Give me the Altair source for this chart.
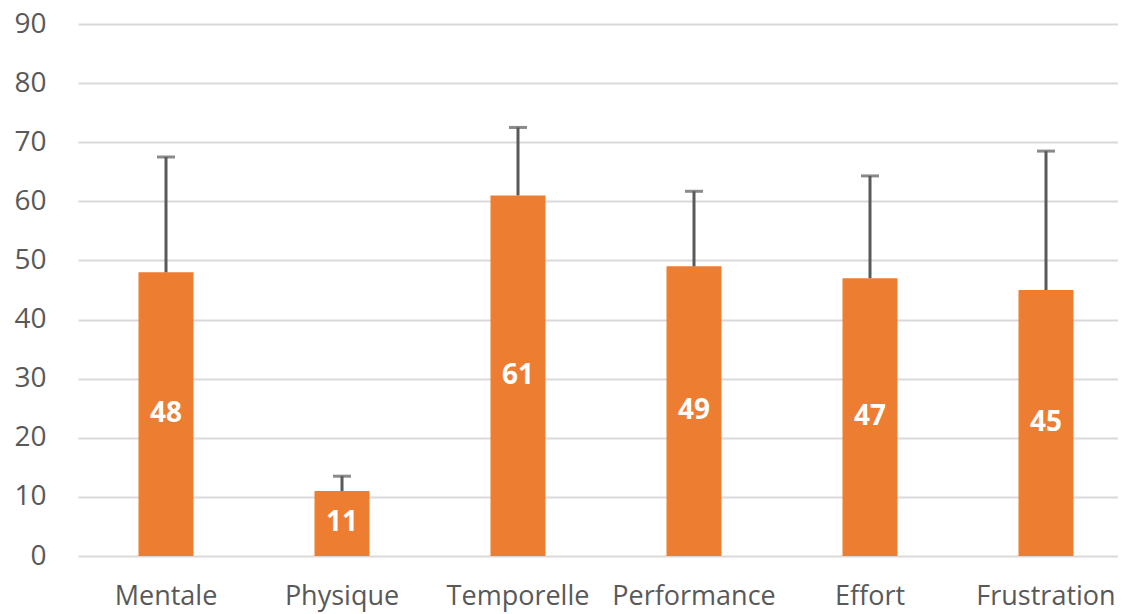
import altair as alt
import pandas as pd

categories = ["Mentale", "Physique", "Temporelle", "Performance", "Effort", "Frustration"]
values = [48, 11, 61, 49, 47, 45]
upper = [67.5, 13.5, 72.5, 61.7, 64.3, 68.5]

df = pd.DataFrame({"cat": categories, "val": values, "up": upper})
df["mid"] = df["val"] / 2

FONT = "Open Sans"
GREY = "#595959"

x = alt.X("cat:N", sort=categories, title=None,
          scale=alt.Scale(paddingInner=0, paddingOuter=0, range=[0, 1056]),
          axis=alt.Axis(labelAngle=0, labelFont=FONT, labelFontSize=27, labelColor=GREY,
                        domain=False, ticks=False, grid=False, labelPadding=27,
                        labelBaseline="top", labelOverlap=False))
y = alt.Y("val:Q", title=None,
          scale=alt.Scale(domain=[0, 90], nice=False),
          axis=alt.Axis(values=list(range(0, 91, 10)), labelFont=FONT, labelFontSize=28,
                        labelColor=GREY, domain=False, ticks=False, labelPadding=32,
                        gridColor="#D9D9D9", gridWidth=2))

xs = alt.X("cat:N", sort=categories)

base = alt.Chart(df)
bars = base.mark_bar(color="#ED7D31", size=55).encode(x=x, y=y)
err = base.mark_rule(color=GREY, strokeWidth=3).encode(
    x=xs, y=alt.Y("val:Q"), y2="up:Q")
cap = base.mark_tick(color=GREY, thickness=3, size=18, orient="horizontal").encode(
    x=xs, y=alt.Y("up:Q"))
labels = base.mark_text(color="white", font=FONT, fontSize=28, fontWeight="bold").encode(
    x=xs, y=alt.Y("mid:Q"), text="val:Q")

chart = alt.layer(bars, err, cap, labels).properties(
    width=1040, height=532,
    background="white",
    autosize=alt.AutoSizeParams(type="none"),
    padding={"left": 70, "top": 16, "right": 0, "bottom": 56},
).configure_view(strokeWidth=0, stroke=None).configure_axis(
    domain=False, ticks=False
).configure_axisX(grid=False)

chart.save("out.html", embed_options={"renderer": "svg", "actions": False})
